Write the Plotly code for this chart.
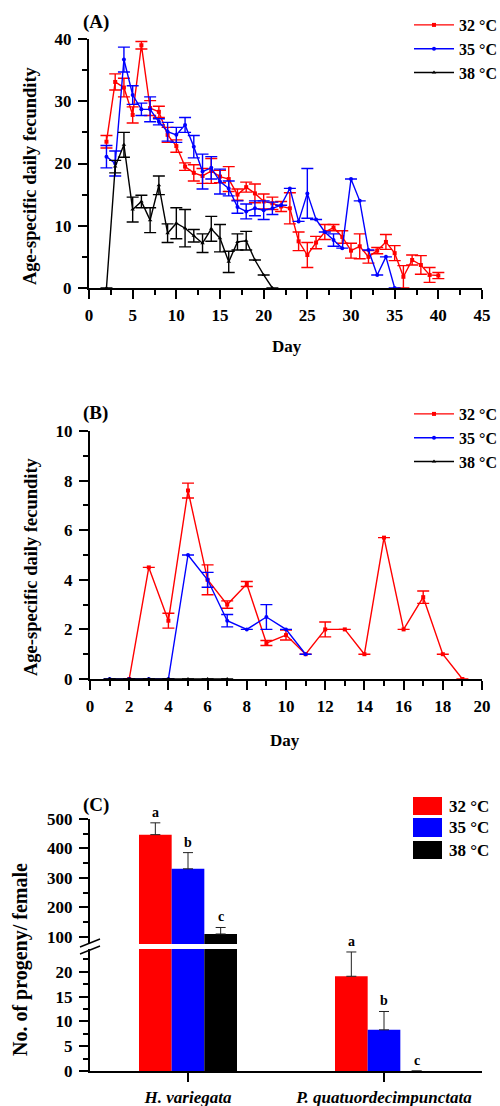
import plotly.graph_objects as go

W, H = 500, 1106
FONT = "Liberation Serif"
RED, BLUE, BLACK = "#FF0000", "#0000FF", "#000000"

# ---------------- Panel A data (H. variegata) ----------------
a_days_32 = list(range(2, 41))
a_fec_32 = [23.5, 33.1, 32.2, 27.8, 39.0, 28.9, 28.3, 24.6, 22.8, 19.5, 18.5, 18.0, 18.8,
            17.9, 17.5, 15.0, 16.2, 15.2, 13.9, 13.6, 13.1, 12.8, 7.5, 5.3, 7.3, 9.0, 9.7,
            8.2, 6.0, 6.7, 5.0, 6.0, 7.4, 5.6, 1.8, 4.5, 3.7, 2.1, 2.0]
a_err_32 = [1.0, 1.3, 1.5, 1.3, 0.6, 1.2, 0.9, 1.2, 1.0, 0.6, 1.3, 1.2, 2.0, 1.0, 2.0, 0.9,
            0.8, 1.5, 1.2, 1.0, 0.8, 2.5, 1.5, 2.0, 1.0, 1.2, 0.5, 1.0, 1.2, 2.0, 1.0, 0.5,
            1.2, 1.2, 1.8, 0.8, 1.5, 1.2, 0.5]
a_days_35 = list(range(2, 36))
a_fec_35 = [21.1, 20.0, 36.7, 31.0, 28.7, 28.7, 26.7, 25.1, 24.6, 26.2, 22.7, 18.7, 19.3,
            17.1, 16.0, 13.0, 12.3, 12.8, 12.5, 12.8, 13.3, 16.0, 10.7, 15.2, 11.0, 9.0,
            7.7, 6.4, 17.5, 14.0, 6.1, 2.1, 5.0, 0.0]
a_err_35 = [1.8, 2.0, 2.0, 1.5, 1.0, 2.0, 0.5, 1.5, 1.2, 1.2, 1.8, 2.8, 1.8, 2.0, 1.2, 1.0,
            1.2, 1.2, 1.5, 1.0, 0, 0, 0, 4.0, 0, 0, 1.0, 0, 0, 0, 0, 0, 0, 0]
a_days_38 = list(range(2, 22))
a_fec_38 = [0.0, 19.5, 23.0, 12.6, 13.9, 10.9, 16.5, 8.8, 10.4, 9.6, 8.4, 7.2, 9.5, 8.0,
            4.2, 7.4, 7.6, 4.5, 2.1, 0.0]
a_err_38 = [0, 1.0, 2.0, 2.0, 1.0, 2.0, 1.5, 1.5, 2.5, 3.0, 1.0, 1.5, 2.0, 2.2, 1.7, 1.3,
            1.5, 0, 0, 0]

# ---------------- Panel B data (P. quatuordecimpunctata) ----------------
b_days_32 = list(range(2, 20))
b_fec_32 = [0.0, 4.5, 2.35, 7.6, 4.0, 3.0, 3.83, 1.45, 1.77, 1.0, 2.0, 2.0, 1.0, 5.7, 2.0,
            3.3, 1.0, 0.0]
b_err_32 = [0, 0, 0.3, 0.3, 0.6, 0.15, 0.1, 0.1, 0.2, 0, 0.3, 0, 0, 0, 0, 0.25, 0, 0]
b_days_35 = list(range(1, 12))
b_fec_35 = [0.0, 0.0, 0.0, 0.0, 5.0, 4.0, 2.35, 2.0, 2.5, 2.0, 1.0]
b_err_35 = [0, 0, 0, 0, 0, 0.3, 0.25, 0, 0.5, 0, 0]
b_days_38 = list(range(1, 8))
b_fec_38 = [0.0, 0.0, 0.0, 0.0, 0.0, 0.0, 0.0]
b_err_38 = [0, 0, 0, 0, 0, 0, 0]

# ---------------- Panel C data ----------------
species = ["H. variegata", "P. quatuordecimpunctata"]
temps = ["32 °C", "35 °C", "38 °C"]
prog_32 = [447, 19.1]
prog_35 = [331, 8.3]
prog_38 = [110, 0.0]
perr_32 = [40, 4.9]
perr_35 = [55, 3.7]
perr_38 = [22, 0.0]
letters_32 = ["a", "a"]
letters_35 = ["b", "b"]
letters_38 = ["c", "c"]


def px(x):
    return x / W


def py(y):
    return 1 - y / H


fig = go.Figure()

line_series = [
    ("x", "y", "legend", [(a_days_32, a_fec_32, a_err_32, RED, "square"),
                          (a_days_35, a_fec_35, a_err_35, BLUE, "circle"),
                          (a_days_38, a_fec_38, a_err_38, BLACK, "triangle-up")]),
    ("x2", "y2", "legend2", [(b_days_32, b_fec_32, b_err_32, RED, "square"),
                             (b_days_35, b_fec_35, b_err_35, BLUE, "circle"),
                             (b_days_38, b_fec_38, b_err_38, BLACK, "triangle-up")]),
]
for xa, ya, lg, series in line_series:
    for (d, v, e, col, sym), name in zip(series, temps):
        fig.add_trace(go.Scatter(
            x=d, y=v, mode="lines+markers", name=name, legend=lg,
            xaxis=xa, yaxis=ya, cliponaxis=False,
            line=dict(color=col, width=1.4),
            marker=dict(color=col, symbol=sym, size=4),
            error_y=dict(type="data", array=e, visible=True, color=col,
                         thickness=1.4, width=6),
        ))

# Panel C bars (upper and lower segments of broken axis)
bar_sets = [(prog_32, perr_32, RED), (prog_35, perr_35, BLUE), (prog_38, perr_38, BLACK)]
cat_pos = list(range(len(species)))
for ya in ["y3", "y4"]:
    for (vals, errs, col), name in zip(bar_sets, temps):
        fig.add_trace(go.Bar(
            x=cat_pos, y=vals, name=name, marker=dict(color=col, line=dict(width=0)),
            xaxis="x3", yaxis=ya, showlegend=False,
            error_y=dict(type="data", symmetric=False, array=errs,
                         arrayminus=[0] * len(errs), color="#222222",
                         thickness=1, width=5),
        ))

tickfont = dict(family=FONT, size=17, color="black", weight="bold")
ax_common = dict(showline=True, linecolor="black", linewidth=2, ticks="outside",
                 tickwidth=2, tickcolor="black", ticklen=9, showgrid=False,
                 zeroline=False, tickfont=tickfont)
minor_common = dict(ticklen=5, tickwidth=1.5, tickcolor="black", ticks="outside")

fig.update_layout(
    width=W, height=H, margin=dict(l=0, r=0, t=0, b=0, autoexpand=False),
    paper_bgcolor="white", plot_bgcolor="white",
    barmode="group", bargap=0.5, bargroupgap=0,
    font=dict(family=FONT, color="black"),
    xaxis=dict(domain=[px(89), px(482)], range=[0, 45], dtick=5, anchor="y",
               minor=dict(dtick=2.5, **minor_common), ticklabelstandoff=2, **ax_common),
    yaxis=dict(domain=[py(288), py(39)], range=[0, 40], dtick=10, anchor="x",
               minor=dict(dtick=5, **minor_common), ticklabelstandoff=3, **ax_common),
    xaxis2=dict(domain=[px(90), px(482)], range=[0, 20], dtick=2, anchor="y2",
                minor=dict(dtick=1, **minor_common), ticklabelstandoff=2, **ax_common),
    yaxis2=dict(domain=[py(679), py(431)], range=[0, 10], dtick=2, anchor="x2",
                minor=dict(dtick=1, **minor_common), ticklabelstandoff=3, **ax_common),
    xaxis3=dict(domain=[px(90), px(482)], range=[-0.5, 1.5], anchor="y4",
                tickvals=cat_pos, ticktext=["<i>" + s + "</i>" for s in species],
                ticklabelstandoff=1, **ax_common),
    yaxis3=dict(domain=[py(944), py(819)], range=[76, 500], anchor="x3",
                tickvals=[100, 200, 300, 400, 500],
                minor=dict(tickvals=[150, 250, 350, 450], **minor_common),
                ticklabelstandoff=3, **ax_common),
    yaxis4=dict(domain=[py(1071), py(949)], range=[0, 24.6], dtick=5, anchor="x3",
                minor=dict(dtick=2.5, **minor_common), ticklabelstandoff=3, **ax_common),
    legend=dict(x=px(409), y=py(8), xanchor="left", yanchor="top",
                font=dict(family=FONT, size=16, weight="bold"), itemwidth=40,
                bgcolor="rgba(0,0,0,0)", tracegroupgap=0),
    legend2=dict(x=px(409), y=py(397), xanchor="left", yanchor="top",
                 font=dict(family=FONT, size=16, weight="bold"), itemwidth=40,
                 bgcolor="rgba(0,0,0,0)", tracegroupgap=0),
)

ann = []
lab_font = dict(family=FONT, size=19, color="black", weight="bold")
ttl_font = dict(family=FONT, size=17, color="black", weight="bold")
for txt, x, y in [("(A)", 81, 22), ("(B)", 81, 413), ("(C)", 81, 805)]:
    ann.append(dict(text=txt, x=px(x), y=py(y), xref="paper", yref="paper",
                    xanchor="left", yanchor="middle", showarrow=False, font=lab_font))
for txt, x, y in [("Day", 287, 347), ("Day", 285, 740)]:
    ann.append(dict(text=txt, x=px(x), y=py(y), xref="paper", yref="paper",
                    xanchor="center", yanchor="middle", showarrow=False, font=ttl_font))
for txt, x, y, fs in [("Age-specific daily fecundity", 30, 176, 18.5),
                      ("Age-specific daily fecundity", 31, 567, 18.5),
                      ("No. of progeny/ female", 20, 960, 20)]:
    ann.append(dict(text=txt, x=px(x), y=py(y), xref="paper", yref="paper",
                    xanchor="center", yanchor="middle", textangle=-90,
                    showarrow=False, font=dict(family=FONT, size=fs, color="black", weight="bold")))

# significance letters
letter_font = dict(family=FONT, size=14, color="black", weight="bold")
for i, (vals, errs, lets) in enumerate([(prog_32, perr_32, letters_32),
                                         (prog_35, perr_35, letters_35),
                                         (prog_38, perr_38, letters_38)]):
    for j in cat_pos:
        yref = "y3" if vals[j] > 76 else "y4"
        ann.append(dict(text=lets[j], x=j + (i - 1) / 6, y=vals[j] + errs[j],
                        xref="x3", yref=yref, xanchor="center", yanchor="bottom",
                        yshift=1, showarrow=False, font=letter_font))

# Panel C legend boxes
shapes = []
for (vals, errs, col), name, (y0, y1) in zip(bar_sets, temps, [(797, 815), (818, 837), (841, 859)]):
    shapes.append(dict(type="rect", xref="paper", yref="paper", x0=px(413), x1=px(442),
                       y0=py(y1), y1=py(y0), fillcolor=col, line=dict(width=0)))
    ann.append(dict(text=name, x=px(447), y=py((y0 + y1) / 2), xref="paper", yref="paper",
                    xanchor="left", yanchor="middle", showarrow=False,
                    font=dict(family=FONT, size=17, color="black", weight="bold")))

# axis break marks
for yy in [(947, 939), (954, 946)]:
    shapes.append(dict(type="line", xref="paper", yref="paper", x0=px(80), x1=px(100),
                       y0=py(yy[0]), y1=py(yy[1]), line=dict(color="black", width=1.5)))
fig.update_layout(annotations=ann, shapes=shapes)

fig.write_html("out.html", config={"displayModeBar": False},
               post_script="document.body.style.margin='0';document.body.style.overflow='hidden';")
